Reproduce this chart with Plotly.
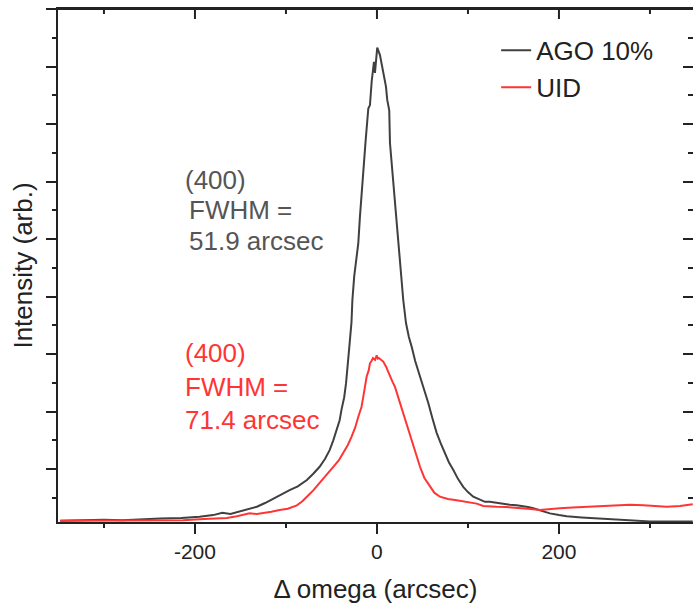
import plotly.graph_objects as go

# ---- data ----
ago_x = [-348, -320, -300, -280, -260, -238, -215, -195, -180, -170,
         -161, -150, -141, -132, -123, -114, -105, -96, -87, -77,
         -70, -63, -57, -52, -48, -44, -41, -39, -36, -34,
         -32, -30, -28, -27, -25, -22, -20.5, -18.7, -15.7, -12.4,
         -9.5, -7.7, -5.8, -3.3, -2.2, -1.2, 0.3, 3.3, 6.9, 9.9,
         11.3, 13.5, 14.3, 16.2, 17.3, 21.6, 24.5, 28.9, 31.9, 35,
         38.1, 42, 47.3, 52, 56.4, 61, 65.6, 70, 74.7, 79,
         83.8, 89, 94.8, 100, 105.8, 112, 118.7, 124, 131, 138.8,
         146, 153.5, 160, 166, 171.8, 180, 190, 200, 208.5, 225,
         245, 262, 281.6, 300, 320, 347]
ago_y = [0.10, 0.11, 0.12, 0.11, 0.13, 0.14, 0.15, 0.17, 0.20, 0.24,
         0.22, 0.27, 0.31, 0.345, 0.41, 0.49, 0.56, 0.635, 0.70, 0.81,
         0.92, 1.04, 1.18, 1.33, 1.50, 1.68, 1.85, 2.03, 2.25, 2.49,
         2.80, 3.19, 3.55, 3.94, 4.35, 4.81, 4.93, 5.39, 6.08, 6.72,
         7.27, 7.33, 7.74, 8.08, 7.89, 8.15, 8.33, 8.20, 7.88, 7.65,
         7.42, 7.24, 6.67, 6.32, 5.97, 5.28, 4.75, 3.94, 3.54, 3.30,
         3.13, 2.88, 2.61, 2.38, 2.15, 1.88, 1.63, 1.45, 1.28, 1.12,
         0.99, 0.83, 0.69, 0.60, 0.52, 0.47, 0.43, 0.43, 0.41, 0.40,
         0.38, 0.37, 0.36, 0.34, 0.32, 0.28, 0.23, 0.20, 0.18, 0.16,
         0.14, 0.12, 0.10, 0.09, 0.09, 0.09]

uid_x = [-348, -300, -260, -213, -190, -176, -165, -154, -147, -140,
         -132, -125, -116, -107, -98, -88, -82, -77, -70, -63,
         -55, -48, -42, -37, -32, -28, -24, -20.5, -17, -15,
         -13, -11.3, -9, -7.7, -6, -4.4, -2, -0.3, 1, 2.2,
         4.5, 6.9, 10, 14.3, 17, 19.8, 24, 28.9, 33, 38.1,
         43, 47.3, 52, 58.2, 63, 69.2, 78, 87.6, 95, 102.2,
         109.6, 116.8, 124, 131.5, 142, 153.5, 166, 179, 190, 201,
         215, 234, 248, 263, 278, 292.6, 305, 318.4, 333, 347]
uid_y = [0.10, 0.10, 0.11, 0.11, 0.13, 0.14, 0.15, 0.18, 0.20, 0.23,
         0.22, 0.235, 0.26, 0.29, 0.31, 0.37, 0.44, 0.52, 0.63, 0.76,
         0.90, 1.04, 1.15, 1.28, 1.42, 1.56, 1.72, 1.91, 2.08, 2.26,
         2.42, 2.61, 2.72, 2.84, 2.88, 2.93, 2.90, 2.98, 2.92, 2.93,
         2.90, 2.87, 2.78, 2.61, 2.52, 2.43, 2.22, 1.97, 1.75, 1.50,
         1.26, 1.04, 0.85, 0.69, 0.59, 0.52, 0.48, 0.46, 0.44, 0.43,
         0.40, 0.36, 0.35, 0.345, 0.34, 0.33, 0.31, 0.29, 0.31, 0.32,
         0.33, 0.345, 0.36, 0.37, 0.38, 0.37, 0.36, 0.345, 0.36, 0.39]

series_names = ["AGO 10%", "UID"]
x_tickvals = [-200, 0, 200]
x_ticktext = ["-200", "0", "200"]
x_minor = [-300, -100, 100, 300]
y_major = [1, 2, 3, 4, 5, 6, 7, 8, 9]
y_minor = [0.5, 1.5, 2.5, 3.5, 4.5, 5.5, 6.5, 7.5, 8.5]
ago_label = ["(400)", "FWHM =", "51.9 arcsec"]
uid_label = ["(400)", "FWHM =", "71.4 arcsec"]

FONT = "Liberation Sans, Arial, sans-serif"
AX = "#222222"
BLACK = "#404040"
RED = "#ff3535"
GRAYTXT = "#555555"

XR = [-350.5, 347.3]
YR = [0.08, 9.0005]
PLOT_H = 609 - 9 - 87  # plot height in px, for tick lengths in paper units

fig = go.Figure()
fig.add_trace(go.Scatter(x=ago_x, y=ago_y, mode="lines", name=series_names[0],
                         line=dict(color=BLACK, width=2)))
fig.add_trace(go.Scatter(x=uid_x, y=uid_y, mode="lines", name=series_names[1],
                         line=dict(color=RED, width=2)))
for xa, ya in [("x3", "y"), ("x", "y2"), ("x", "y3"), ("x", "y4")]:
    fig.add_trace(go.Scatter(x=[None], y=[None], xaxis=xa, yaxis=ya,
                             showlegend=False, hoverinfo="skip"))

base = dict(showgrid=False, zeroline=False, tickcolor=AX, tickwidth=2,
            automargin=False)


def tick_axis(rng, side, ticks, ticklen, vals, over, anchor):
    return dict(range=rng, side=side, ticks=ticks, ticklen=ticklen,
                tickmode="array", tickvals=vals, showticklabels=False,
                overlaying=over, anchor=anchor, showline=False, **base)


fig.update_layout(
    width=693, height=609,
    margin=dict(l=58, r=0, t=9, b=87),
    paper_bgcolor="white", plot_bgcolor="white",
    font=dict(family=FONT, color="#222222"),
    showlegend=True,
    legend=dict(x=0.69, y=0.965, xanchor="left", yanchor="top",
                font=dict(size=26, color="#222222"),
                bgcolor="rgba(0,0,0,0)", borderwidth=0, tracegroupgap=0),
    xaxis=dict(range=XR, side="bottom", ticks="outside", ticklen=10,
               showline=True, linecolor=AX, linewidth=2, mirror=True,
               tickmode="array", tickvals=x_tickvals, ticktext=x_ticktext,
               tickfont=dict(size=21, color="#222222"),
               title=dict(text="Δ omega (arcsec)", font=dict(size=26, color="#222222"),
                          standoff=18),
               **base),
    xaxis3=tick_axis(XR, "bottom", "outside", 5, x_minor, "x", "y"),
    yaxis=dict(range=YR, side="left", ticks="outside", ticklen=10,
               showline=True, linecolor=AX, linewidth=2,
               tickmode="array", tickvals=y_major, showticklabels=False,
               title=dict(text="Intensity (arb.)", font=dict(size=26, color="#222222"),
                          standoff=6),
               **base),
    yaxis3=tick_axis(YR, "left", "outside", 5, y_minor, "y", "x"),
    yaxis2=tick_axis(YR, "right", "inside", 10, y_major, "y", "x"),
    yaxis4=tick_axis(YR, "right", "inside", 5, y_minor, "y", "x"),
)

# top frame: border line plus inward-pointing ticks at the x tick positions
fig.add_shape(type="line", xref="paper", yref="paper", x0=0, x1=1, y0=1, y1=1,
              line=dict(color=AX, width=2), layer="above")
for v in x_tickvals:
    fig.add_shape(type="line", xref="x", yref="paper", x0=v, x1=v,
                  y0=1, y1=1 - 10 / PLOT_H, line=dict(color=AX, width=2), layer="above")
for v in x_minor:
    fig.add_shape(type="line", xref="x", yref="paper", x0=v, x1=v,
                  y0=1, y1=1 - 5 / PLOT_H, line=dict(color=AX, width=2), layer="above")

ago_pos = [(-213, 6.03), (-208.7, 5.50), (-208.7, 4.97)]
uid_pos = [(-213, 3.02), (-213, 2.43), (-213, 1.85)]
for txt, (x, y) in zip(ago_label, ago_pos):
    fig.add_annotation(x=x, y=y, xref="x", yref="y", text=txt, showarrow=False,
                       xanchor="left", yanchor="middle",
                       font=dict(size=26, color=GRAYTXT, family=FONT))
for txt, (x, y) in zip(uid_label, uid_pos):
    fig.add_annotation(x=x, y=y, xref="x", yref="y", text=txt, showarrow=False,
                       xanchor="left", yanchor="middle",
                       font=dict(size=26, color=RED, family=FONT))

fig.write_html("out.html")
